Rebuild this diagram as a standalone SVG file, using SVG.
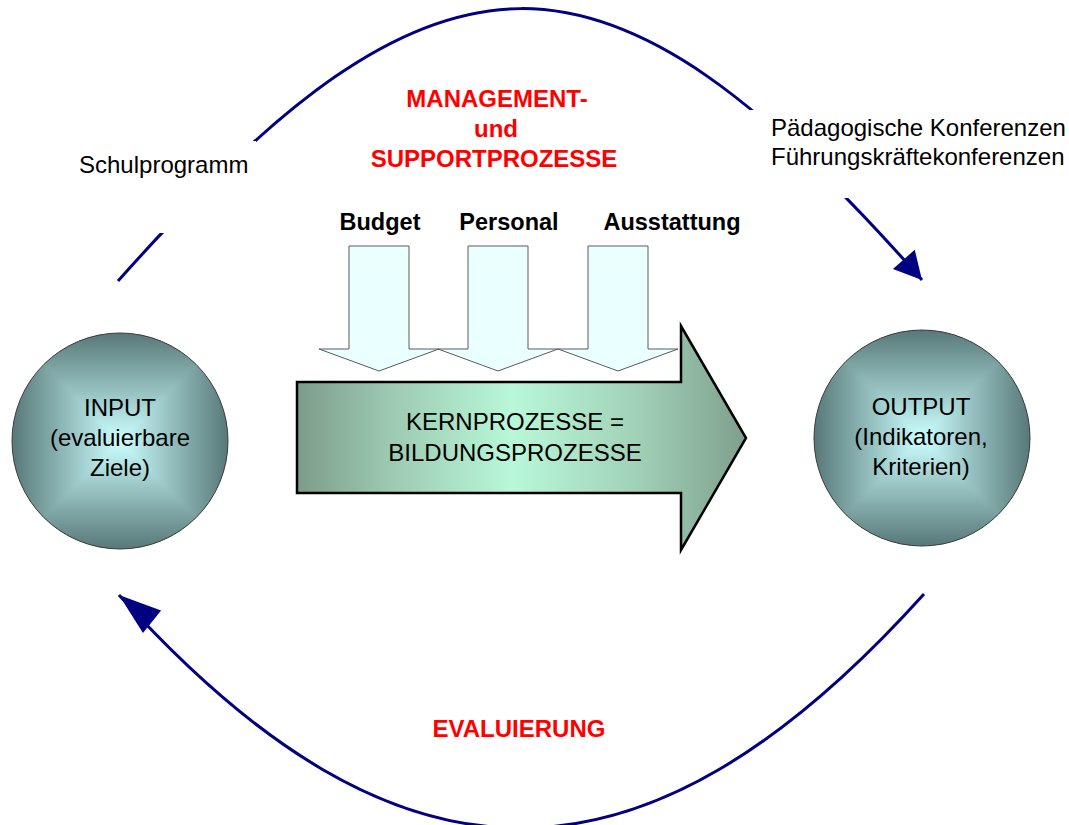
<svg xmlns="http://www.w3.org/2000/svg" xmlns:xlink="http://www.w3.org/1999/xlink" width="1069" height="825" viewBox="0 0 1069 825">
  <style>
    text { font-family: "Liberation Sans", Arial, sans-serif; fill: #000; }
    .body { font-size: 24px; }
    .center { text-anchor: middle; }
    .head { font-size: 23.5px; font-weight: bold; text-anchor: middle; }
    .red { font-size: 24px; font-weight: bold; fill: #ff0000; text-anchor: middle; }
    .loop { fill: none; stroke: #000080; stroke-width: 3; }
    .feed { fill: #eaffff; stroke: #5a5a5a; stroke-width: 1; }
  </style>
  <defs>
    <!-- rectangular light-centre shading: horizontal ramp underneath, vertical wedges on top -->
    <linearGradient id="sHoriz" x1="0" y1="0" x2="1" y2="0">
      <stop offset="0" stop-color="#587878"/>
      <stop offset="0.5" stop-color="#ccffff"/>
      <stop offset="1" stop-color="#587878"/>
    </linearGradient>
    <linearGradient id="sTop" x1="0" y1="0" x2="0" y2="1">
      <stop offset="0" stop-color="#587878"/>
      <stop offset="1" stop-color="#ccffff"/>
    </linearGradient>
    <linearGradient id="sBottom" x1="0" y1="1" x2="0" y2="0">
      <stop offset="0" stop-color="#587878"/>
      <stop offset="1" stop-color="#ccffff"/>
    </linearGradient>
    <clipPath id="orbClip">
      <circle cx="0" cy="0" r="108"/>
    </clipPath>
    <g id="orb">
      <g clip-path="url(#orbClip)">
        <rect x="-108" y="-108" width="216" height="216" fill="url(#sHoriz)"/>
        <polygon points="-108,-108 108,-108 0,0" fill="url(#sTop)"/>
        <polygon points="-108,108 108,108 0,0" fill="url(#sBottom)"/>
      </g>
      <circle cx="0" cy="0" r="108" fill="none" stroke="#3a3a3a" stroke-width="1"/>
    </g>
    <linearGradient id="kernFill" gradientUnits="userSpaceOnUse" x1="297" y1="0" x2="746" y2="0">
      <stop offset="0" stop-color="#7c9c8a"/>
      <stop offset="0.2" stop-color="#9cc8b0"/>
      <stop offset="0.48" stop-color="#b8f8d8"/>
      <stop offset="0.75" stop-color="#a2d2b8"/>
      <stop offset="1" stop-color="#7f9f8d"/>
    </linearGradient>
    <path id="feedArrow" d="M-30,-125 H30 V-22 H60 L0,0 L-60,-22 H-30 Z"/>
    <marker id="tipShort" markerUnits="userSpaceOnUse" orient="auto" overflow="visible" markerWidth="1" markerHeight="1">
      <path d="M0,0 L-27.5,-14.5 L-27.5,14.5 Z" fill="#000080"/>
    </marker>
    <marker id="tipLong" markerUnits="userSpaceOnUse" orient="219" overflow="visible" markerWidth="1" markerHeight="1">
      <path d="M0,0 L-42.5,-14.4 L-42.5,14.4 Z" fill="#000080"/>
    </marker>
    <!-- openings in the upper loop where the side captions sit -->
    <mask id="captionGaps" maskUnits="userSpaceOnUse" x="0" y="0" width="1069" height="825">
      <rect x="0" y="0" width="1069" height="825" fill="#fff"/>
      <rect x="70" y="141" width="186" height="92" fill="#000"/>
      <rect x="740" y="110" width="329" height="88" fill="#000"/>
    </mask>
  </defs>

  <rect x="0" y="0" width="1069" height="825" fill="#fff"/>

  <g id="connectors">
    <path class="loop" mask="url(#captionGaps)" d="M118,281 C440,-81 603,-83 922,280" marker-end="url(#tipShort)"/>
    <path class="loop" d="M924,594 C643,906 399,906 119,595" marker-end="url(#tipLong)"/>
  </g>

  <g id="node-kern">
    <polygon points="297,382 681,382 681,326 746,438 681,550 681,493 297,493" fill="url(#kernFill)" stroke="#000" stroke-width="2.5" stroke-linejoin="miter"/>
    <text class="body center" x="515" y="430">KERNPROZESSE =</text>
    <text class="body center" x="515" y="461">BILDUNGSPROZESSE</text>
  </g>

  <g id="node-budget">
    <use xlink:href="#feedArrow" href="#feedArrow" class="feed" transform="translate(379,371)"/>
    <text class="head" x="380" y="230">Budget</text>
  </g>
  <g id="node-personal">
    <use xlink:href="#feedArrow" href="#feedArrow" class="feed" transform="translate(498,371)"/>
    <text class="head" x="509" y="230">Personal</text>
  </g>
  <g id="node-ausstattung">
    <use xlink:href="#feedArrow" href="#feedArrow" class="feed" transform="translate(618,371)"/>
    <text class="head" x="672" y="230">Ausstattung</text>
  </g>

  <g id="node-input">
    <use xlink:href="#orb" href="#orb" transform="translate(120,441)"/>
    <text class="body center" x="120" y="416">INPUT</text>
    <text class="body center" x="120" y="446">(evaluierbare</text>
    <text class="body center" x="120" y="476">Ziele)</text>
  </g>

  <g id="node-output">
    <use xlink:href="#orb" href="#orb" transform="translate(922,438)"/>
    <text class="body center" x="921" y="415">OUTPUT</text>
    <text class="body center" x="921" y="445">(Indikatoren,</text>
    <text class="body center" x="921" y="475">Kriterien)</text>
  </g>

  <g id="labels">
    <text class="red" x="497" y="107">MANAGEMENT-</text>
    <text class="red" x="496" y="137">und</text>
    <text class="red" x="494" y="167">SUPPORTPROZESSE</text>
    <text class="red" x="519" y="737">EVALUIERUNG</text>
    <text class="body" x="79" y="173">Schulprogramm</text>
    <text class="body" x="771" y="135.5">Pädagogische Konferenzen</text>
    <text class="body" x="771" y="165">Führungskräftekonferenzen</text>
  </g>
</svg>
